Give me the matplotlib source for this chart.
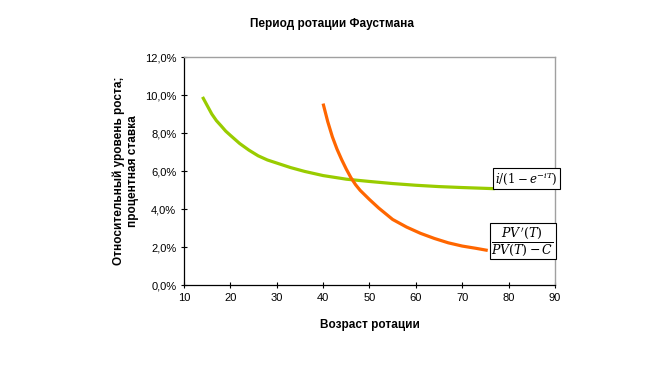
#!/usr/bin/env python3

import matplotlib
matplotlib.use("Agg")
import matplotlib.pyplot as plt
from matplotlib.ticker import FuncFormatter


# Relative growth curve i/(1 - e^(-iT))
GREEN_AGE = [14, 15, 16, 17, 18, 19, 20, 22, 24, 26, 28, 30, 33, 36,
             40, 45, 50, 55, 60, 65, 70, 77]
GREEN_RATE = [9.9, 9.45, 9.0, 8.65, 8.38, 8.1, 7.88, 7.45, 7.1, 6.8, 6.58,
              6.42, 6.18, 5.98, 5.76, 5.57, 5.45, 5.34, 5.25, 5.18, 5.13, 5.07]

# PV'(T) / (PV(T) - C)
ORANGE_AGE = [40, 41, 42, 43, 44, 45, 46, 47, 48, 50, 52, 55, 58, 61, 64,
              67, 70, 73, 75.5]
ORANGE_RATE = [9.55, 8.6, 7.8, 7.15, 6.6, 6.1, 5.65, 5.28, 4.98, 4.5, 4.05,
               3.45, 3.05, 2.72, 2.45, 2.22, 2.05, 1.93, 1.82]

TITLE = "Период ротации Фаустмана"
XLABEL = "Возраст ротации"
YLABEL = "Относительный уровень роста;\nпроцентная ставка"

plt.rcParams["font.family"] = ["Liberation Sans", "DejaVu Sans"]
plt.rcParams["mathtext.fontset"] = "dejavuserif"

figure = plt.figure(figsize=(6.68, 3.70), dpi=100)
axis = figure.add_axes((0.2754, 0.2297, 0.5554, 0.6162))

axis.plot(GREEN_AGE, GREEN_RATE, color="#99CC00", linewidth=2.3,
          solid_capstyle="butt")
axis.plot(ORANGE_AGE, ORANGE_RATE, color="#FF6600", linewidth=2.3,
          solid_capstyle="butt")

axis.set_xlim(10, 90)
axis.set_ylim(0, 12)
axis.set_xticks(range(10, 91, 10))
axis.set_yticks(range(0, 13, 2))
axis.yaxis.set_major_formatter(
    FuncFormatter(lambda v, _: f"{v:.1f}%".replace(".", ","))
)
axis.tick_params(direction="inout", length=5, width=0.8,
                 labelsize=8, pad=3, colors="black")

for side in ("top", "right"):
    axis.spines[side].set_color("#a0a0a0")
    axis.spines[side].set_linewidth(1.0)
for side in ("left", "bottom"):
    axis.spines[side].set_linewidth(0.9)

box = dict(boxstyle="square,pad=0.15", facecolor="white",
           edgecolor="black", linewidth=0.8)
axis.text(77.1, 5.6, r"$i/\left(1-e^{-iT}\right)$", fontsize=8.5,
          ha="left", va="center", bbox=box)
axis.text(76.3, 2.3, r"$\dfrac{PV\,'(T)}{PV(T)-C}$", fontsize=9,
          ha="left", va="center", bbox=box)

axis.set_xlabel(XLABEL, fontsize=8.5, fontweight="bold", labelpad=12)
axis.set_ylabel(YLABEL, fontsize=8.5, fontweight="bold", labelpad=4)
figure.text(0.497, 0.935, TITLE, fontsize=8.5, fontweight="bold",
            ha="center", va="center")

figure.savefig("out.png", dpi=100)
